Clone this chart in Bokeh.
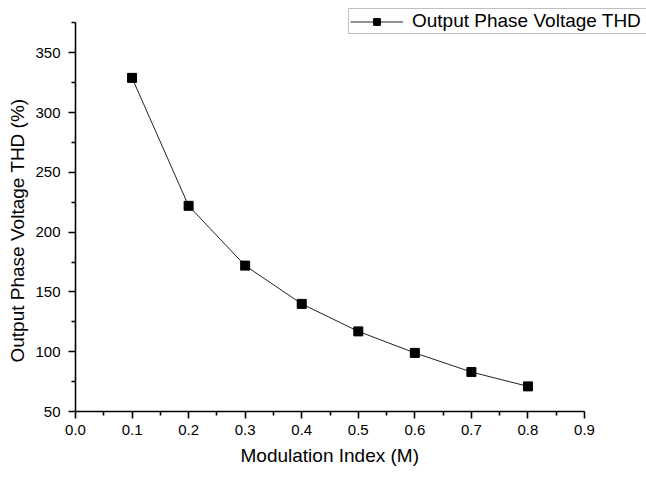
from bokeh.plotting import figure
from bokeh.models import Range1d, FixedTicker, Legend, LegendItem, CustomJSTickFormatter, Title
from bokeh.embed import file_html
from bokeh.resources import INLINE

modulation_index = [0.1, 0.2, 0.3, 0.4, 0.5, 0.6, 0.7, 0.8]
thd_percent = [329, 222, 172, 140, 117, 99, 83, 71]
x_ticks = [0.0, 0.1, 0.2, 0.3, 0.4, 0.5, 0.6, 0.7, 0.8, 0.9]
y_ticks = [50, 100, 150, 200, 250, 300, 350]
x_axis_end = 0.9
y_axis_end = 375.3
x_title = "Modulation Index (M)"
y_title = "Output Phase Voltage THD (%)"
series_name = "Output Phase Voltage THD"

FONT = "Liberation Sans"

# frame spans to the top/right edges so the legend box can sit there;
# axis lines are bounded to the ranges of the original axes
p = figure(width=646, height=477, output_backend="svg", toolbar_location=None,
           x_range=Range1d(0.0, 1.0096), y_range=Range1d(50, 393.7),
           min_border_left=75, min_border_right=0, min_border_top=0, min_border_bottom=66)
p.outline_line_color = None
p.xgrid.visible = False
p.ygrid.visible = False
p.background_fill_color = "white"
p.border_fill_color = "white"

ln = p.line(modulation_index, thd_percent, line_color="#222222", line_width=1)
sq = p.scatter(modulation_index, thd_percent, marker="square", size=9,
               fill_color="black", line_color="black")

for ax, ticks, extra, bnd in ((p.xaxis, x_ticks, [], (0.0, x_axis_end)),
                              (p.yaxis, y_ticks, [375], (50, y_axis_end))):
    ax.ticker = FixedTicker(ticks=ticks,
                            minor_ticks=[(a + b) / 2 for a, b in zip(ticks[:-1], ticks[1:])] + extra)
    ax.bounds = bnd
    ax.axis_line_width = 1.6
    ax.axis_line_color = "black"
    ax.major_tick_line_width = 1.6
    ax.minor_tick_line_width = 1.6
    ax.major_tick_in = 0
    ax.major_tick_out = 7
    ax.minor_tick_in = 0
    ax.minor_tick_out = 4
    ax.major_label_text_font = FONT
    ax.major_label_text_font_size = "15px"
    ax.major_label_text_color = "black"

p.xaxis.major_label_standoff = 6
p.yaxis.major_label_standoff = 8
p.xaxis.formatter = CustomJSTickFormatter(code="return tick.toFixed(1);")

# axis titles positioned relative to the original axis extents
p.add_layout(Title(text=x_title, align="left", offset=165, standoff=14, vertical_align="top",
                   text_font=FONT, text_font_size="19px", text_font_style="normal",
                   text_color="black"), "below")
p.add_layout(Title(text=y_title, align="left", offset=49, standoff=5, vertical_align="top",
                   text_font=FONT, text_font_size="19px", text_font_style="normal",
                   text_color="black"), "left")

legend = Legend(items=[LegendItem(label=series_name, renderers=[ln, sq])],
                location=(273, 377), orientation="vertical",
                label_text_font=FONT, label_text_font_size="19px", label_text_color="black",
                glyph_width=53, glyph_height=17, label_height=17, label_width=240,
                label_standoff=9, padding=1, margin=0, spacing=0,
                border_line_color="#808080", border_line_width=1.5,
                background_fill_color="white", background_fill_alpha=1.0)
p.add_layout(legend, "center")

open("out.html", "w").write(file_html(p, INLINE))
